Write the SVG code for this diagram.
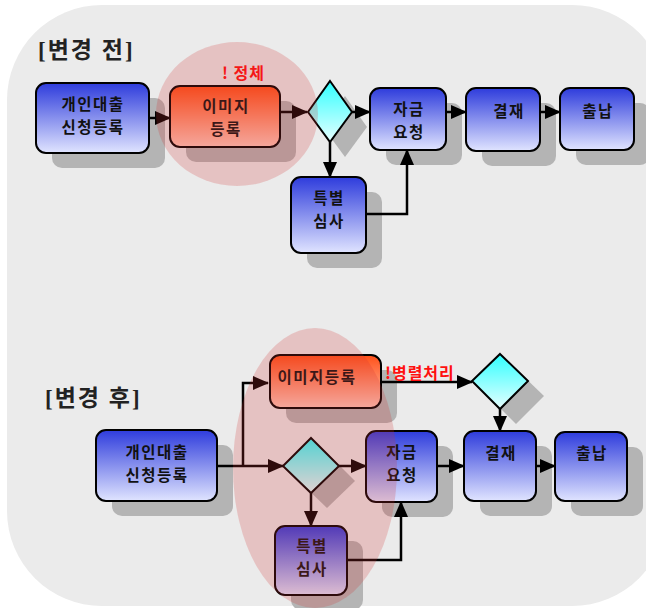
<svg xmlns="http://www.w3.org/2000/svg" width="646" height="608" viewBox="0 0 646 608">
<style>
.node{stroke:#000;stroke-width:2}
.shadow{fill:#b4b4b4;stroke:none}
.t{font-family:"Noto Sans CJK KR","Noto Sans",sans-serif;font-weight:bold;font-size:15.5px;fill:#111;text-anchor:middle;letter-spacing:1.5px}
.title{font-family:"Liberation Serif","Noto Sans CJK KR",serif;font-weight:bold;font-size:23px;fill:#222;letter-spacing:2px}
.red{font-family:"Noto Sans CJK KR","Noto Sans",sans-serif;font-weight:bold;font-size:16px;fill:#ff1010;letter-spacing:1px}
.c{fill:none;stroke:#000;stroke-width:2.5}
.hl{fill:#d03030;opacity:0.22}
</style>
<defs>
<linearGradient id="gb" x1="0" y1="0" x2="0" y2="1"><stop offset="0" stop-color="#2e3cdc"/><stop offset="1" stop-color="#e0e4ff"/></linearGradient>
<linearGradient id="go" x1="0" y1="0" x2="0" y2="1"><stop offset="0" stop-color="#ff5018"/><stop offset="1" stop-color="#ffc8ba"/></linearGradient>
<linearGradient id="gc" x1="0" y1="0" x2="0" y2="1"><stop offset="0" stop-color="#30ffff"/><stop offset="1" stop-color="#e6ffff"/></linearGradient>
<marker id="ah" markerUnits="userSpaceOnUse" markerWidth="16" markerHeight="14" refX="15" refY="7" orient="auto"><path d="M0,0 L16,7 L0,14 Z" fill="#000"/></marker>
</defs>
<rect x="7" y="5" width="660" height="601" rx="95" fill="#ebebeb"/>
<text class="title" x="38" y="58">[변경 전]</text>
<text class="title" x="45" y="406">[변경 후]</text>

<g id="shadows">
<rect class="shadow" x="52" y="98" width="113" height="70" rx="10"/>
<rect class="shadow" x="186" y="101" width="110" height="61" rx="10"/>
<rect class="shadow" x="386" y="103" width="76" height="62" rx="10"/>
<rect class="shadow" x="482" y="103" width="74" height="63" rx="10"/>
<rect class="shadow" x="576" y="103" width="74" height="62" rx="10"/>
<rect class="shadow" x="307" y="192" width="75" height="76" rx="10"/>
<polygon class="shadow" points="345,96 367,127 345,157 323,127"/>
<rect class="shadow" x="112" y="445" width="121" height="71" rx="10"/>
<rect class="shadow" x="286" y="370" width="111" height="53" rx="10"/>
<polygon class="shadow" points="327,453 355,481 327,508 299,481"/>
<polygon class="shadow" points="516,369 544,396 516,424 488,396"/>
<rect class="shadow" x="382" y="446" width="71" height="71" rx="10"/>
<rect class="shadow" x="480" y="446" width="72" height="70" rx="10"/>
<rect class="shadow" x="571" y="447" width="72" height="69" rx="10"/>
<rect class="shadow" x="291" y="541" width="72" height="69" rx="10"/>
</g>

<g id="connectors">
<line class="c" x1="149" y1="118" x2="170" y2="118" marker-end="url(#ah)"/>
<line class="c" x1="281" y1="112" x2="307" y2="112" marker-end="url(#ah)"/>
<line class="c" x1="352" y1="112" x2="370" y2="112" marker-end="url(#ah)"/>
<line class="c" x1="446" y1="112" x2="466" y2="112" marker-end="url(#ah)"/>
<line class="c" x1="540" y1="112" x2="560" y2="112" marker-end="url(#ah)"/>
<line class="c" x1="330" y1="142" x2="330" y2="177" marker-end="url(#ah)"/>
<polyline class="c" points="366,214 407,214 407,150" marker-end="url(#ah)"/>
<line class="c" x1="217" y1="466" x2="283" y2="466" marker-end="url(#ah)"/>
<polyline class="c" points="243,466 243,383 268,383" marker-end="url(#ah)"/>
<line class="c" x1="339" y1="466" x2="366" y2="466" marker-end="url(#ah)"/>
<line class="c" x1="381" y1="382" x2="472" y2="382" marker-end="url(#ah)"/>
<line class="c" x1="500" y1="409" x2="500" y2="431" marker-end="url(#ah)"/>
<line class="c" x1="437" y1="466" x2="464" y2="466" marker-end="url(#ah)"/>
<line class="c" x1="536" y1="466" x2="555" y2="466" marker-end="url(#ah)"/>
<line class="c" x1="311" y1="493" x2="311" y2="526" marker-end="url(#ah)"/>
<polyline class="c" points="347,560 401,560 401,502" marker-end="url(#ah)"/>
</g>

<g id="b_apply"><rect class="node" x="36" y="83" width="113" height="70" rx="10" fill="url(#gb)"/><text class="t" x="93" y="110">개인대출</text><text class="t" x="93" y="133">신청등록</text></g>
<g id="b_image"><rect class="node" x="170" y="86" width="110" height="61" rx="10" fill="url(#go)"/><text class="t" x="226" y="112">이미지</text><text class="t" x="226" y="135">등록</text></g>
<g id="b_dec"><polygon class="node" points="330,81 352,112 330,142 308,112" fill="url(#gc)"/></g>
<g id="b_fund"><rect class="node" x="370" y="88" width="76" height="62" rx="10" fill="url(#gb)"/><text class="t" x="409" y="115">자금</text><text class="t" x="409" y="138">요청</text></g>
<g id="b_approve"><rect class="node" x="466" y="88" width="74" height="63" rx="10" fill="url(#gb)"/><text class="t" x="509" y="117">결재</text></g>
<g id="b_pay"><rect class="node" x="560" y="88" width="74" height="62" rx="10" fill="url(#gb)"/><text class="t" x="598" y="117">출납</text></g>
<g id="b_review"><rect class="node" x="291" y="177" width="75" height="76" rx="10" fill="url(#gb)"/><text class="t" x="329" y="204">특별</text><text class="t" x="329" y="227">심사</text></g>
<text class="red" x="222" y="79">! 정체</text>

<g id="a_apply"><rect class="node" x="96" y="430" width="121" height="71" rx="10" fill="url(#gb)"/><text class="t" x="157" y="458">개인대출</text><text class="t" x="157" y="481">신청등록</text></g>
<g id="a_image"><rect class="node" x="270" y="355" width="111" height="53" rx="10" fill="url(#go)"/><text class="t" x="317" y="383">이미지등록</text></g>
<g id="a_dec1"><polygon class="node" points="311,438 339,466 311,493 283,466" fill="url(#gc)"/></g>
<g id="a_dec2"><polygon class="node" points="500,354 528,381 500,409 472,381" fill="url(#gc)"/></g>
<g id="a_fund"><rect class="node" x="366" y="431" width="71" height="71" rx="10" fill="url(#gb)"/><text class="t" x="402" y="458">자금</text><text class="t" x="402" y="481">요청</text></g>
<g id="a_approve"><rect class="node" x="464" y="431" width="72" height="70" rx="10" fill="url(#gb)"/><text class="t" x="501" y="459">결재</text></g>
<g id="a_pay"><rect class="node" x="555" y="432" width="72" height="69" rx="10" fill="url(#gb)"/><text class="t" x="592" y="459">출납</text></g>
<g id="a_review"><rect class="node" x="275" y="526" width="72" height="69" rx="10" fill="url(#gb)"/><text class="t" x="312" y="552">특별</text><text class="t" x="312" y="575">심사</text></g>
<text class="red" x="385" y="379">!병렬처리</text>

<ellipse class="hl" cx="237" cy="114" rx="81" ry="72"/>
<ellipse class="hl" cx="315" cy="468" rx="82" ry="140"/>
</svg>
